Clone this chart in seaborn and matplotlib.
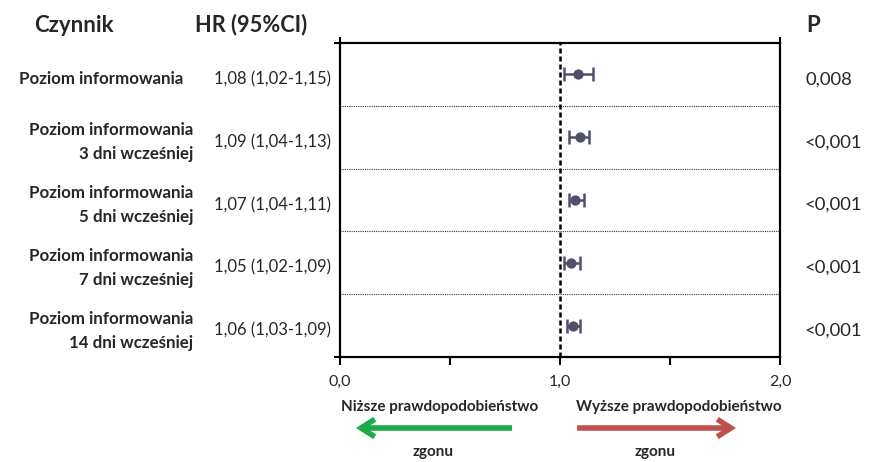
import matplotlib
matplotlib.use("Agg")
import matplotlib.pyplot as plt
import matplotlib.transforms as mtransforms
from matplotlib.patches import FancyArrowPatch
import numpy as np
import pandas as pd
import seaborn as sns

# dane
czynniki = ["Poziom informowania",
            "Poziom informowania\n3 dni wcześniej",
            "Poziom informowania\n5 dni wcześniej",
            "Poziom informowania\n7 dni wcześniej",
            "Poziom informowania\n14 dni wcześniej"]
hr = [1.08, 1.09, 1.07, 1.05, 1.06]
ci_low = [1.02, 1.04, 1.04, 1.02, 1.03]
ci_high = [1.15, 1.13, 1.11, 1.09, 1.09]
p_values = ["0,008", "<0,001", "<0,001", "<0,001", "<0,001"]
x_ticks = [0.0, 0.5, 1.0, 1.5, 2.0]
x_ticklabels = ["0,0", "", "1,0", "", "2,0"]


def fmt(v):
    return f"{v:.2f}".replace(".", ",")


df = pd.DataFrame({"czynnik": czynniki, "hr": hr, "lo": ci_low, "hi": ci_high,
                   "row": np.arange(len(czynniki))})

sns.set_theme(style="white")
plt.rcParams["font.family"] = ["Lato", "DejaVu Sans"]

W, H = 874, 462
fig = plt.figure(figsize=(W / 100, H / 100), dpi=100)
ax = fig.add_axes([340 / W, 1 - 357 / H, 440 / W, 314 / H])

mcol = "#50506a"
ax.errorbar(df["hr"], df["row"], xerr=[df["hr"] - df["lo"], df["hi"] - df["hr"]],
            fmt="none", ecolor=mcol, elinewidth=1.8, capsize=5, capthick=1.8, zorder=3)
sns.scatterplot(data=df, x="hr", y="row", color=mcol, s=55, edgecolor=mcol,
                linewidth=0, ax=ax, zorder=4, legend=False)

ax.axvline(1.0, color="black", lw=1.8, ls=(0, (2.0, 1.2)), zorder=2)
for r in df["row"][:-1]:
    ax.axhline(r + 0.5, color="#333333", lw=0.8, ls=(0, (1, 1)), zorder=1)

ax.set_xlim(0, 2)
ax.set_ylim(len(czynniki) - 0.5, -0.5)
ax.set_xticks(x_ticks)
ax.set_xticklabels(x_ticklabels, fontsize=11.5)
ax.set_yticks([-0.5, len(czynniki) - 0.5])
ax.set_yticklabels([])
ax.set_xlabel("")
ax.set_ylabel("")
ax.tick_params(axis="x", direction="out", length=6, width=1.5, color="black",
               bottom=True, pad=7)
ax.tick_params(axis="y", direction="out", length=4, width=1.5, color="black", left=True)
sec = ax.secondary_xaxis("top")
sec.set_xticks([0, 2])
sec.set_xticklabels([])
sec.tick_params(direction="out", length=4, width=1.5, color="black")
sec.spines["top"].set_visible(False)
for s in ax.spines.values():
    s.set_color("black")
    s.set_linewidth(1.6)

# kolumny tekstowe
trans = mtransforms.blended_transform_factory(fig.transFigure, ax.transData)
for i, row in df.iterrows():
    y = row["row"] + 0.08
    xr = 183 if "\n" not in row["czynnik"] else 193
    ax.text(xr / W, y, row["czynnik"], transform=trans, ha="right", va="center",
            fontsize=12.2, fontweight="bold", linespacing=1.6)
    ax.text(272 / W, y, f"{fmt(row['hr'])} ({fmt(row['lo'])}-{fmt(row['hi'])})",
            transform=trans, ha="center", va="center", fontsize=12)
    ax.text(805 / W, y, p_values[i], transform=trans, ha="left", va="center",
            fontsize=13.3)

fig.text(74 / W, 1 - 25 / H, "Czynnik", ha="center", va="center",
         fontsize=16, fontweight="bold")
fig.text(251 / W, 1 - 25 / H, "HR (95%CI)", ha="center", va="center",
         fontsize=15.7, fontweight="bold")
fig.text(813 / W, 1 - 25 / H, "P", ha="center", va="center",
         fontsize=16, fontweight="bold")

fig.text(440 / W, 1 - 407 / H, "Niższe prawdopodobieństwo", ha="center", va="center",
         fontsize=11, fontweight="bold")
fig.text(679 / W, 1 - 407 / H, "Wyższe prawdopodobieństwo", ha="center", va="center",
         fontsize=11, fontweight="bold")
fig.text(433 / W, 1 - 452 / H, "zgonu", ha="center", va="center",
         fontsize=11, fontweight="bold")
fig.text(655 / W, 1 - 452 / H, "zgonu", ha="center", va="center",
         fontsize=11, fontweight="bold")

for x0, x1, col in [(512, 356, "#1aaa4a"), (577, 736, "#c0504d")]:
    arr = FancyArrowPatch((x0 / W, 1 - 428 / H), (x1 / W, 1 - 428 / H),
                          transform=fig.transFigure,
                          arrowstyle="->,head_length=0.7,head_width=0.45",
                          color=col, lw=4, mutation_scale=14, shrinkA=0, shrinkB=0,
                          joinstyle="miter", capstyle="butt")
    fig.add_artist(arr)

fig.savefig("out.png", dpi=100)
